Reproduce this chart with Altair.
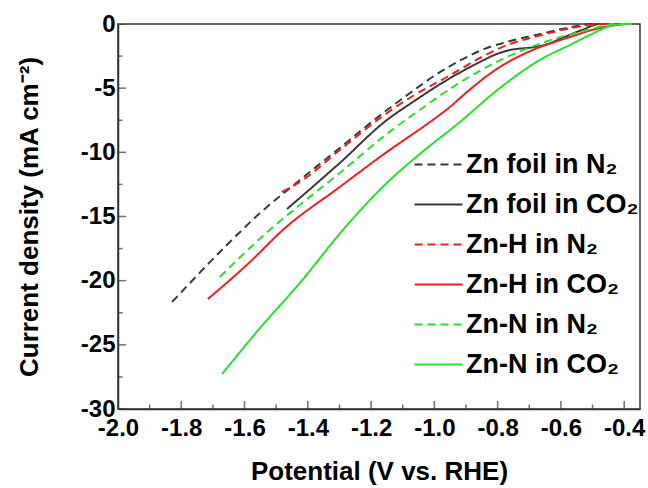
import altair as alt
import pandas as pd

# ---- data (Potential V vs RHE, current density mA cm^-2)
series_names = ["Zn foil in N₂", "Zn foil in CO₂", "Zn-H in N₂", "Zn-H in CO₂", "Zn-N in N₂", "Zn-N in CO₂"]
series_colors = ["#3a3a3a", "#3a3a3a", "#ee1f1f", "#ee1f1f", "#27e027", "#27e027"]
series_dashes = [[8, 5], [1, 0], [8, 5], [1, 0], [8, 5], [1, 0]]

foil_n2_v = [-1.829, -1.656, -1.551, -1.425, -1.299, -1.150, -1.077, -0.992, -0.910, -0.834, -0.771, -0.651, -0.566, -0.493, -0.398]
foil_n2_j = [-21.66, -17.22, -14.73, -12.16, -9.66, -6.70, -5.38, -3.90, -2.73, -1.87, -1.40, -0.70, -0.23, 0.0, 0.0]

foil_co2_v = [-1.466, -1.299, -1.150, -1.068, -0.960, -0.856, -0.803, -0.761, -0.682, -0.641, -0.603, -0.534, -0.477, -0.414]
foil_co2_j = [-14.42, -10.83, -7.48, -6.08, -4.36, -2.96, -2.34, -2.03, -1.79, -1.56, -1.17, -0.47, 0.0, 0.0]

znh_n2_v = [-1.482, -1.425, -1.299, -1.150, -1.068, -0.960, -0.856, -0.777, -0.673, -0.566, -0.461, -0.376]
znh_n2_j = [-13.09, -12.31, -9.82, -6.94, -5.61, -4.13, -2.65, -1.71, -0.94, -0.31, 0.0, 0.0]

znh_co2_v = [-1.716, -1.583, -1.479, -1.299, -1.150, -1.005, -0.951, -0.897, -0.793, -0.689, -0.581, -0.477, -0.398]
znh_co2_j = [-21.43, -18.55, -16.05, -12.70, -9.97, -7.48, -6.47, -5.30, -3.35, -2.03, -1.09, -0.31, 0.0]

znn_n2_v = [-1.678, -1.510, -1.425, -1.299, -1.150, -1.046, -0.951, -0.834, -0.777, -0.641, -0.515, -0.430, -0.382]
znn_n2_j = [-19.71, -15.82, -14.10, -11.61, -8.57, -6.70, -5.06, -3.35, -2.65, -1.32, -0.47, 0.0, 0.0]

znn_co2_v = [-1.671, -1.551, -1.425, -1.289, -1.147, -1.046, -0.919, -0.793, -0.667, -0.572, -0.509, -0.430, -0.376]
znn_co2_j = [-27.27, -23.69, -20.18, -16.05, -12.31, -10.13, -7.64, -4.99, -2.81, -1.64, -0.86, -0.08, 0.0]

x_major = [-2.0, -1.8, -1.6, -1.4, -1.2, -1.0, -0.8, -0.6, -0.4]
x_minor = [-1.9, -1.7, -1.5, -1.3, -1.1, -0.9, -0.7, -0.5]
y_major = [0, -5, -10, -15, -20, -25, -30]
y_minor = [-2.5, -7.5, -12.5, -17.5, -22.5, -27.5]

all_v = [foil_n2_v, foil_co2_v, znh_n2_v, znh_co2_v, znn_n2_v, znn_co2_v]
all_j = [foil_n2_j, foil_co2_j, znh_n2_j, znh_co2_j, znn_n2_j, znn_co2_j]

rows = []
for name, vs, js in zip(series_names, all_v, all_j):
    for i, (v, j) in enumerate(zip(vs, js)):
        rows.append({"series": name, "potential": v, "current": j, "idx": i})
df = pd.DataFrame(rows)

W, H = 522, 385
FONT = "Liberation Sans"
AX = "#333333"

xscale = alt.Scale(domain=[-2.0, -0.35], nice=False, zero=False)
yscale = alt.Scale(domain=[-30, 0], nice=False, zero=False)

legend_kw = dict(title="", orient="none", legendX=295, legendY=127,
                 symbolType="M-1,0H3", symbolSize=576, symbolStrokeWidth=2,
                 labelFontSize=27, labelFontWeight="bold", labelColor="black",
                 labelOffset=26, labelLimit=400, rowPadding=12, padding=0)

lines = alt.Chart(df).mark_line(strokeWidth=2, interpolate="monotone").encode(
    x=alt.X("potential:Q", scale=xscale, axis=alt.Axis(
        orient="bottom", values=x_major, ticks=False, tickSize=0, grid=False, labelFlush=False,
        labelExpr="(datum.value < 0 ? '-' : '') + format(abs(datum.value), '.1f')",
        labelFontSize=24, labelFontWeight="bold", labelPadding=7, labelColor="black",
        title="Potential (V vs. RHE)", titleFontSize=26, titleFontWeight="bold",
        titlePadding=18, titleColor="black",
        domainColor=AX, domainWidth=1.5)),
    y=alt.Y("current:Q", scale=yscale, axis=alt.Axis(
        orient="left", values=y_major, ticks=False, tickSize=0, grid=False, labelFlush=False,
        labelExpr="(datum.value < 0 ? '-' : '') + format(abs(datum.value), 'd')",
        labelFontSize=24, labelFontWeight="bold", labelPadding=3, labelColor="black",
        title="Current density (mA cm⁻²)", titleFontSize=26, titleFontWeight="bold",
        titlePadding=38, titleColor="black",
        domainColor=AX, domainWidth=1.5)),
    color=alt.Color("series:N", scale=alt.Scale(domain=series_names, range=series_colors),
                    legend=alt.Legend(**legend_kw)),
    strokeDash=alt.StrokeDash("series:N", scale=alt.Scale(domain=series_names, range=series_dashes),
                              legend=alt.Legend(**legend_kw)),
    order=alt.Order("idx:Q"),
)

# inward axis ticks (clipped to the plot area so only the inner half shows)
xt_major = pd.DataFrame({"potential": x_major})
xt_minor = pd.DataFrame({"potential": x_minor})
yt_major = pd.DataFrame({"current": y_major})
yt_minor = pd.DataFrame({"current": y_minor})

def xticks(data, size):
    return alt.Chart(data).mark_tick(orient="vertical", size=size, thickness=1.5, color=AX, clip=True).encode(
        x=alt.X("potential:Q", scale=xscale), y=alt.datum(-30))

def yticks(data, size):
    return alt.Chart(data).mark_tick(orient="horizontal", size=size, thickness=1.5, color=AX, clip=True).encode(
        y=alt.Y("current:Q", scale=yscale), x=alt.datum(-2.0))

chart = alt.layer(
    lines,
    xticks(xt_major, 16), xticks(xt_minor, 9),
    yticks(yt_major, 16), yticks(yt_minor, 9),
).properties(
    width=W, height=H,
    autosize=alt.AutoSizeParams(type="none"),
    padding={"left": 118, "top": 24, "right": 8, "bottom": 79},
    background="white",
).configure(font=FONT).configure_view(stroke=AX, strokeWidth=1.5)

chart.save("out.html", embed_options={"renderer": "svg", "actions": False})
